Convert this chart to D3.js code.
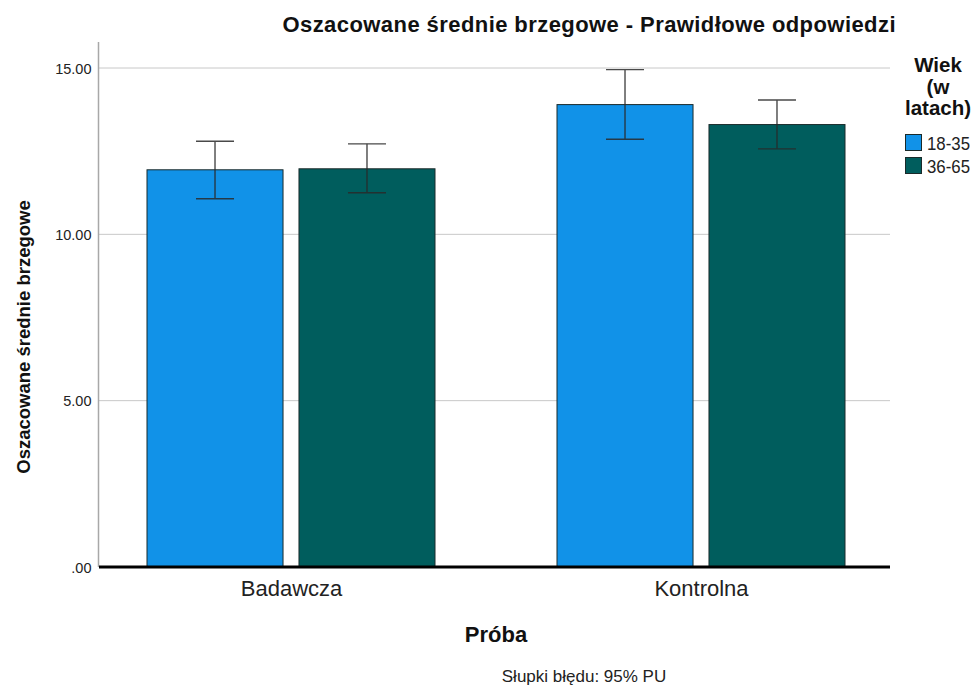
<!DOCTYPE html>
<html>
<head>
<meta charset="utf-8">
<script src="https://cdn.jsdelivr.net/npm/d3@7"></script>
<style>
  body { margin: 0; background: #fff; }
  text { font-family: "Liberation Sans", Arial, sans-serif; }
</style>
</head>
<body>
<svg id="chart" width="977" height="688"></svg>
<script>
// Estimated marginal means with 95% CI
const categories = ["Badawcza", "Kontrolna"];
const series = ["18-35", "36-65"];
const means = [[11.94, 11.97], [13.90, 13.30]];
const lower = [[11.07, 11.25], [12.86, 12.57]];
const upper = [[12.80, 12.72], [14.95, 14.04]];
const yTicks = [0, 5, 10, 15];
const colors = ["#1192e8", "#005d5d"];

const svg = d3.select("#chart");
const plotLeft = 99, plotRight = 890, plotTop = 42, plotBottom = 567;

const y = d3.scaleLinear().domain([0, 15]).range([plotBottom, 68]);
const x = d3.scalePoint().domain(categories).range([plotLeft + 192, plotRight - 189]);
const xi = d3.scaleBand().domain(series).range([-144, 144]).paddingInner(0.105);

// gridlines
svg.append("g").selectAll("line").data(yTicks.filter(d => d > 0)).join("line")
  .attr("x1", plotLeft).attr("x2", plotRight)
  .attr("y1", d => y(d)).attr("y2", d => y(d))
  .attr("stroke", "#c8c8c8").attr("stroke-width", 1);

// y axis
const yAxis = svg.append("g").attr("transform", `translate(${plotLeft - 0.5},0)`)
  .call(d3.axisLeft(y).tickValues(yTicks).tickSize(0).tickPadding(7)
    .tickFormat(d => d === 0 ? ".00" : d3.format(".2f")(d)));
yAxis.select(".domain").remove();
yAxis.selectAll("text").attr("font-size", 14.5).attr("fill", "#222").attr("dy", "0.36em");
svg.append("line").attr("x1", plotLeft - 0.5).attr("x2", plotLeft - 0.5)
  .attr("y1", plotTop).attr("y2", plotBottom).attr("stroke", "#a8a8a8").attr("stroke-width", 1.5);

// bars
const groups = svg.append("g").selectAll("g").data(categories).join("g")
  .attr("transform", d => `translate(${x(d)},0)`);
groups.each(function(cat, ci) {
  const g = d3.select(this);
  series.forEach((s, si) => {
    g.append("rect")
      .attr("x", xi(s)).attr("width", xi.bandwidth())
      .attr("y", y(means[ci][si])).attr("height", y(0) - y(means[ci][si]))
      .attr("fill", colors[si]).attr("stroke", "#1a2a2a").attr("stroke-width", 1);
  });
});

// error bars
groups.each(function(cat, ci) {
  const g = d3.select(this);
  series.forEach((s, si) => {
    const cx = xi(s) + xi.bandwidth() / 2;
    const eb = g.append("g").attr("stroke", "#2a2a2a").attr("stroke-width", 1.4).attr("opacity", 0.85);
    eb.append("line").attr("x1", cx).attr("x2", cx)
      .attr("y1", y(upper[ci][si])).attr("y2", y(lower[ci][si]));
    [upper[ci][si], lower[ci][si]].forEach(v => {
      eb.append("line").attr("x1", cx - 19).attr("x2", cx + 19)
        .attr("y1", y(v)).attr("y2", y(v));
    });
  });
});

// baseline
svg.append("line").attr("x1", plotLeft).attr("x2", plotRight)
  .attr("y1", plotBottom).attr("y2", plotBottom).attr("stroke", "#000").attr("stroke-width", 3);

// category labels
const xAxis = svg.append("g").attr("transform", `translate(0,${plotBottom})`)
  .call(d3.axisBottom(x).tickSize(0).tickPadding(13));
xAxis.select(".domain").remove();
xAxis.selectAll("text").attr("font-size", 22).attr("fill", "#222");

// titles
svg.append("text").attr("x", 589).attr("y", 32).attr("text-anchor", "middle")
  .attr("font-size", 22).attr("font-weight", "bold").attr("fill", "#111")
  .attr("textLength", 613).attr("lengthAdjust", "spacing")
  .text("Oszacowane średnie brzegowe - Prawidłowe odpowiedzi");
svg.append("text").attr("transform", `translate(30,337) rotate(-90)`)
  .attr("text-anchor", "middle").attr("font-size", 18.5).attr("font-weight", "bold").attr("fill", "#111")
  .text("Oszacowane średnie brzegowe");
svg.append("text").attr("x", 496).attr("y", 642).attr("text-anchor", "middle")
  .attr("font-size", 22).attr("font-weight", "bold").attr("fill", "#111").text("Próba");
svg.append("text").attr("x", 584).attr("y", 682).attr("text-anchor", "middle")
  .attr("font-size", 17).attr("fill", "#222").text("Słupki błędu: 95% PU");

// legend
const legTitle = ["Wiek", "(w", "latach)"];
svg.append("g").selectAll("text").data(legTitle).join("text")
  .attr("x", 938).attr("y", (d, i) => 72 + i * 21.5).attr("text-anchor", "middle")
  .attr("font-size", 20.5).attr("font-weight", "bold").attr("fill", "#111").text(d => d);
const leg = svg.append("g").selectAll("g").data(series).join("g")
  .attr("transform", (d, i) => `translate(905,${134 + i * 23})`);
leg.append("rect").attr("x", 0.5).attr("y", 0.5).attr("width", 16).attr("height", 16)
  .attr("fill", (d, i) => colors[i]).attr("stroke", "#1a2a2a").attr("stroke-width", 1);
leg.append("text").attr("x", 22).attr("y", 16).attr("font-size", 18).attr("fill", "#222")
  .attr("textLength", 43).attr("lengthAdjust", "spacingAndGlyphs").text(d => d);
</script>
</body>
</html>
